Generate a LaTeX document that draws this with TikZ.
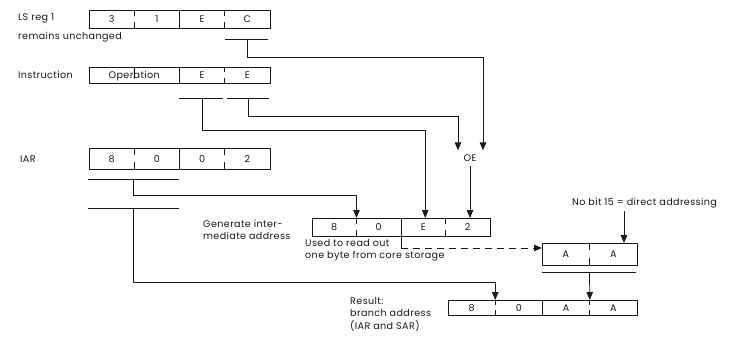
\documentclass[tikz,border=0pt]{standalone}
\usepackage{fontspec}
\setmainfont[LetterSpace=4]{Poppins}
\usetikzlibrary{arrows.meta,calc}
\definecolor{ink}{HTML}{1A1A1A}
\newcommand\regrow[9]{%
  \node[cell,anchor=north west,minimum width=#4,minimum height=#5] (#1a) at (#2,#3) {#6};
  \node[cell,minimum width=#4,minimum height=#5] (#1b) at (#1a.east) {#7};
  \node[cell,minimum width=#4,minimum height=#5] (#1c) at (#1b.east) {#8};
  \node[cell,minimum width=#4,minimum height=#5] (#1d) at (#1c.east) {#9};
  \draw[boxline] (#1a.north west) rectangle (#1d.south east);}
\newcommand\soliddiv[1]{\draw[boxline] (#1.north east) -- (#1.south east);}
\newcommand\tickdiv[1]{\draw[boxline] (#1.north east) -- ($(#1.north east)!0.32!(#1.south east)$)
  (#1.south east) -- ($(#1.south east)!0.32!(#1.north east)$);}
\begin{document}
\begin{tikzpicture}[x=1pt,y=-1pt,
  font=\fontsize{9.6}{12.5}\selectfont,
  cell/.style={draw=none,inner sep=0pt,outer sep=0pt,anchor=west,text=ink,text height=7pt,text depth=0pt},
  boxline/.style={line width=1pt,draw=ink},
  conn/.style={line width=0.75pt,draw=ink},
  arr/.style={conn,-{Triangle[length=8pt,width=6.5pt]}},
  dashline/.style={conn,dash pattern=on 7pt off 5pt,-{Triangle[length=8pt,width=6.5pt]}},
  lbl/.style={inner sep=0pt,anchor=west,align=left,text=ink}]
\useasboundingbox[fill=white] (0,0) rectangle (736,341);

% labels
\node[lbl] (lsl) at (18,18) {LS reg 1};
\node[lbl] (lsr) at (18,37) {remains unchanged};
\node[lbl] (insl) at (18,75) {Instruction};
\node[lbl] (iarl) at (20,159) {IAR};
\node[lbl] (genl) at (203,230) {Generate inter-\\mediate address};
\node[lbl] (usel) at (305,250) {Used to read out\\one byte from core storage};
\node[lbl] (resl) at (350,314) {Result:\\branch address\\(IAR and SAR)};
\node[lbl] (nb) at (572,203) {No bit 15 = direct addressing};
\node[inner sep=4pt,text=ink] (oe) at (470,158) {OE};

% LS reg 1
\regrow{ls}{89}{10}{45.25pt}{18pt}{3}{1}{E}{C}
\tickdiv{lsa}\soliddiv{lsb}\tickdiv{lsc}

% Instruction
\node[cell,anchor=north west,minimum width=90.5pt,minimum height=16pt] (ina) at (89,67) {Operation};
\node[cell,minimum width=45.25pt,minimum height=16pt] (inc) at (ina.east) {E};
\node[cell,minimum width=45.25pt,minimum height=16pt] (ind) at (inc.east) {E};
\draw[boxline] (ina.north west) rectangle (ind.south east);
\draw[boxline] (ina.north) -- ($(ina.north)!0.72!(ina.south)$);
\soliddiv{ina}\tickdiv{inc}

% IAR
\regrow{iar}{89}{148}{45.25pt}{21pt}{8}{0}{0}{2}
\tickdiv{iara}\soliddiv{iarb}\tickdiv{iarc}

% intermediate address
\regrow{im}{312}{218}{44.5pt}{18pt}{8}{0}{E}{2}
\tickdiv{ima}\soliddiv{imb}\tickdiv{imc}

% byte from core storage
\node[cell,anchor=north west,minimum width=47.5pt,minimum height=22pt] (aaa) at (542,243) {A};
\node[cell,minimum width=47.5pt,minimum height=22pt] (aab) at (aaa.east) {A};
\draw[boxline] (aaa.north west) rectangle (aab.south east);
\tickdiv{aaa}

% result
\regrow{rs}{448}{300}{47.25pt}{15pt}{8}{0}{A}{A}
\tickdiv{rsa}\soliddiv{rsb}\tickdiv{rsc}

% underline bars and drop points
\coordinate (u1l) at (225,39); \coordinate (u1r) at (268,39); \coordinate (d1) at (247,39);
\coordinate (u2l) at (179,98); \coordinate (u2r) at (223,98); \coordinate (d2) at (202,98);
\coordinate (u3l) at (227,98); \coordinate (u3r) at (269,98); \coordinate (d3) at (248,98);
\coordinate (u4l) at (88,179); \coordinate (u4r) at (179,179); \coordinate (d4) at (133,179);
\coordinate (u5l) at (88,208); \coordinate (u5r) at (179,208); \coordinate (d5) at (133,208);
\coordinate (u6l) at (542,272); \coordinate (u6r) at (636,272);
\coordinate (nbp) at (624,211);
\foreach \k in {1,...,6} {\draw[conn] (u\k l) -- (u\k r);}

% connectors
\draw[arr] (d1) -- ++(0,18) -| ([xshift=13pt]oe.north);
\draw[arr] (d3) -- ++(0,18) -| ([xshift=-12pt]oe.north);
\draw[arr] (d2) -- ++(0,32) -| ([xshift=2pt]imc.north);
\draw[arr] (oe.south) -- (oe.south |- imd.north);
\draw[arr] (d4) -- ++(0,16) -| (ima.north east);
\draw[arr] (d5) -- ++(0,74) -| (rsa.north east);
\draw[arr] (u6l -| aaa.south east) -- (rsc.north east);
\draw[arr] (nbp) -- (nbp |- aab.north);
\draw[conn] (imb.south east) -- ++(0,12) coordinate (ds);
\draw[dashline] (ds) -- (ds -| aaa.west);
\end{tikzpicture}
\end{document}
